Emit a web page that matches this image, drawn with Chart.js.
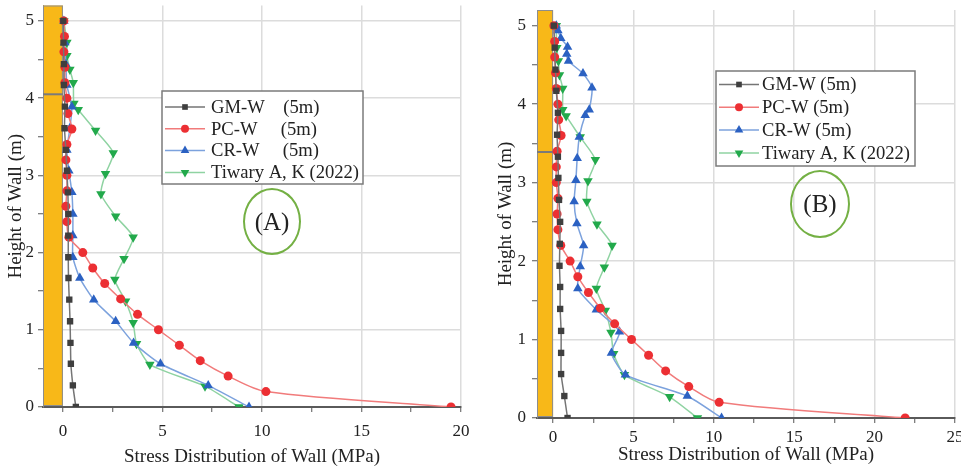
<!DOCTYPE html>
<html>
<head>
<meta charset="utf-8">
<script src="https://cdn.jsdelivr.net/npm/chart.js@4.4.1/dist/chart.umd.min.js"></script>
<style>
  body { margin: 0; background: #fff; }
  #wrap { position: relative; width: 961px; height: 470px; overflow: hidden; font-family: "Liberation Serif", "Times New Roman", serif; }
  canvas { position: absolute; top: 0; }
  #chartA { left: 0; }
  #chartB { left: 480px; }
  .tag { position: absolute; box-sizing: border-box; border: 2px solid #74b044; border-radius: 50%;
         display: flex; align-items: center; justify-content: center; font-size: 25px; color: #222; }
</style>
</head>
<body>
<div id="wrap">
  <canvas id="chartA" width="480" height="470"></canvas>
  <canvas id="chartB" width="481" height="470"></canvas>
  <div class="tag" style="left:243px;top:188px;width:58px;height:67px">(A)</div>
  <div class="tag" style="left:790px;top:170px;width:60px;height:68px">(B)</div>
</div>
<script>
// sampling heights along the wall (m)
const hCoarse = [0, 0.28, 0.56, 0.83, 1.11, 1.39, 1.67, 1.94, 2.22, 2.5, 2.78, 3.06, 3.33, 3.61, 3.89, 4.17, 4.44, 4.72, 5.0];
const hFine = [0, 0.2, 0.4, 0.6, 0.8, 1.0, 1.2, 1.4, 1.6, 1.8, 2.0, 2.2, 2.4, 2.6, 2.8, 3.0, 3.2, 3.4, 3.6, 3.8, 4.0, 4.2, 4.4, 4.6, 4.8, 5.0];
const hTiwary = [0, 0.27, 0.55, 0.82, 1.09, 1.37, 1.65, 1.92, 2.2, 2.47, 2.76, 3.02, 3.29, 3.58, 3.85, 3.93, 4.2, 4.37, 4.55, 4.72, 5.0];
const hCrB = [0, 0.28, 0.55, 0.83, 1.1, 1.38, 1.65, 1.93, 2.2, 2.48, 2.76, 3.03, 3.31, 3.58, 3.86, 3.93, 4.21, 4.39, 4.55, 4.64, 4.73, 4.84, 4.94, 5.0];

// stress (MPa) - panel A
const gmA = [0.65, 0.5, 0.4, 0.38, 0.36, 0.32, 0.28, 0.27, 0.27, 0.27, 0.25, 0.2, 0.15, 0.08, 0.1, 0.05, 0.05, 0.03, 0.02];
const pcA = [19.5, 10.2, 8.3, 6.9, 5.85, 4.8, 3.75, 2.9, 2.1, 1.5, 1.0, 0.3, 0.2, 0.15, 0.2, 0.2, 0.15, 0.2, 0.45, 0.25, 0.2, 0.1, 0.1, 0.05, 0.08, 0.05];
const crA = [9.35, 7.3, 4.9, 3.55, 2.65, 1.55, 0.85, 0.5, 0.5, 0.5, 0.45, 0.3, 0.2, 0.35, 0.45, 0.2, 0.15, 0.1, 0.05];
const tiwaryA = [8.85, 7.14, 4.37, 3.7, 3.53, 3.15, 2.61, 3.07, 3.53, 2.65, 1.91, 2.14, 2.53, 1.64, 0.77, 0.55, 0.52, 0.35, 0.2, 0.2, 0.05];

// stress (MPa) - panel B
const gmB = [0.9, 0.7, 0.5, 0.5, 0.5, 0.44, 0.44, 0.4, 0.42, 0.44, 0.37, 0.33, 0.3, 0.25, 0.3, 0.2, 0.15, 0.1, 0.05];
const pcB = [21.9, 10.33, 8.44, 7.0, 5.94, 4.88, 3.83, 2.94, 2.2, 1.54, 1.06, 0.48, 0.3, 0.25, 0.3, 0.2, 0.2, 0.25, 0.5, 0.35, 0.3, 0.2, 0.15, 0.1, 0.1, 0.05];
const crB = [10.48, 8.35, 4.5, 3.63, 4.13, 2.69, 1.54, 1.69, 1.9, 1.48, 1.31, 1.42, 1.5, 1.63, 2.0, 2.25, 2.42, 1.86, 0.96, 0.85, 0.9, 0.48, 0.3, 0.2];
const tiwaryB = [8.98, 7.25, 4.44, 3.77, 3.6, 3.25, 2.69, 3.19, 3.67, 2.73, 2.1, 2.17, 2.63, 1.69, 0.81, 0.6, 0.6, 0.4, 0.33, 0.23, 0.2];

const labelsA = ['GM-W    (5m)', 'PC-W     (5m)', 'CR-W     (5m)', 'Tiwary A, K (2022)'];
const labelsB = ['GM-W (5m)', 'PC-W (5m)', 'CR-W (5m)', 'Tiwary A, K (2022)'];

const xTicksA = [0, 2.5, 5, 7.5, 10, 12.5, 15, 17.5, 20];
const xTicksB = [0, 2.5, 5, 7.5, 10, 12.5, 15, 17.5, 20, 22.5, 25];
const yTicks = [0, 0.5, 1, 1.5, 2, 2.5, 3, 3.5, 4, 4.5, 5];

// wall strip drawn behind the curves
const wallSpan = [-1, 0];
const wallTop = 5.2;
const jointA = 4.05;
const jointB = 3.39;

const serif = '"Liberation Serif", "Times New Roman", serif';
const ink = '#222';

const pts = (hs, vs) => hs.map((h, i) => ({ x: vs[i], y: h }));

const wallPlugin = {
    id: 'wall',
    beforeDatasetsDraw(chart, args, opts) {
        const { ctx, scales: { x, y } } = chart;
        const l = x.getPixelForValue(wallSpan[0]);
        const r = x.getPixelForValue(wallSpan[1]);
        const t = y.getPixelForValue(wallTop);
        const b = y.getPixelForValue(0) - 1;
        ctx.save();
        ctx.fillStyle = '#f8b818';
        ctx.fillRect(l, t, r - l, b - t);
        ctx.strokeStyle = '#8d8d8d';
        ctx.lineWidth = 1;
        ctx.strokeRect(l + 0.5, t + 0.5, r - l - 1, b - t - 1);
        const j = y.getPixelForValue(opts.joint);
        ctx.strokeStyle = '#7a7a7a';
        ctx.lineWidth = 2;
        ctx.beginPath();
        ctx.moveTo(l, j);
        ctx.lineTo(r, j);
        ctx.stroke();
        ctx.restore();
    }
};

// framed legend placed over the plot
const boxLegend = {
    id: 'boxLegend',
    afterDatasetsDraw(chart, args, o) {
        const ctx = chart.ctx;
        ctx.save();
        ctx.fillStyle = '#fff';
        ctx.fillRect(o.left, o.top, o.width, o.height);
        ctx.strokeStyle = '#7b7b7b';
        ctx.lineWidth = 1.5;
        ctx.strokeRect(o.left, o.top, o.width, o.height);
        ctx.font = `${o.fontSize}px ${serif}`;
        ctx.textBaseline = 'middle';
        chart.data.datasets.forEach((ds, i) => {
            const yy = o.firstRow + i * o.rowGap;
            const x0 = o.left + 3;
            ctx.strokeStyle = ds.borderColor;
            ctx.lineWidth = 1.5;
            ctx.beginPath();
            ctx.moveTo(x0, yy);
            ctx.lineTo(x0 + o.lineLen, yy);
            ctx.stroke();
            ctx.fillStyle = ds.pointBackgroundColor;
            Chart.helpers.drawPoint(ctx, {
                pointStyle: ds.pointStyle,
                rotation: ds.pointRotation || 0,
                radius: ds.pointRadius - 0.5,
                borderWidth: 0
            }, x0 + o.lineLen / 2, yy);
            ctx.fillStyle = ink;
            ctx.fillText(ds.label, o.left + o.textX, yy + 1);
        });
        ctx.restore();
    }
};

function series(labels, gm, pc, cr, tw, hCr, hTw) {
    return [
        {
            label: labels[0], data: pts(hCoarse, gm),
            borderColor: '#757575', pointBackgroundColor: '#3f3f3f',
            pointStyle: 'rect', pointRadius: 4.5, tension: 0.2
        },
        {
            label: labels[1], data: pts(hFine, pc),
            borderColor: '#f17b7b', pointBackgroundColor: '#ec2f33',
            pointStyle: 'circle', pointRadius: 4.5, tension: 0.3
        },
        {
            label: labels[2], data: pts(hCr, cr),
            borderColor: '#7ca2dd', pointBackgroundColor: '#2b61c2',
            pointStyle: 'triangle', pointRadius: 5.5, tension: 0.2
        },
        {
            label: labels[3], data: pts(hTw, tw),
            borderColor: '#8fd3a2', pointBackgroundColor: '#22a94b',
            pointStyle: 'triangle', pointRotation: 180, pointRadius: 5.5, tension: 0.2
        }
    ].map(ds => Object.assign({
        showLine: true, borderWidth: 1.5, pointBorderWidth: 0, pointHoverRadius: 0
    }, ds));
}

function buildChart(id, datasets, cfg) {
    const ctx = document.getElementById(id).getContext('2d');
    return new Chart(ctx, {
        type: 'scatter',
        data: { datasets },
        plugins: [wallPlugin, boxLegend],
        options: {
            responsive: false,
            animation: false,
            events: [],
            layout: { padding: cfg.padding },
            scales: {
                x: {
                    type: 'linear', min: -1, max: cfg.xMax,
                    afterBuildTicks: (s) => { s.ticks = cfg.xTicks.map((v) => ({ value: v })); },
                    afterFit: (s) => { s.height = cfg.xHeight; s.paddingLeft = 0; s.paddingRight = 0; },
                    ticks: {
                        autoSkip: false, maxRotation: 0, color: ink, padding: cfg.xTickPad,
                        font: { family: serif, size: 17 },
                        callback: (v) => (v % 5 === 0 ? String(v) : '')
                    },
                    grid: {
                        color: (c) => (c.tick && c.tick.value % 5 === 0 && c.tick.value > 0 ? '#dcdcdc' : 'rgba(0,0,0,0)'),
                        lineWidth: 1.5, tickColor: '#555', tickLength: 5, tickWidth: 1
                    },
                    border: { color: '#5a5a5a', width: 2 },
                    title: {
                        display: true, text: 'Stress Distribution of Wall (MPa)', color: ink,
                        font: { family: serif, size: 19 }, padding: { top: 0, bottom: cfg.xTitlePad }
                    }
                },
                y: {
                    type: 'linear', min: 0, max: wallTop,
                    afterBuildTicks: (s) => { s.ticks = yTicks.map((v) => ({ value: v })); },
                    afterFit: (s) => { s.width = cfg.yWidth; s.paddingTop = 0; s.paddingBottom = 0; },
                    ticks: {
                        autoSkip: false, color: ink, padding: cfg.yTickPad,
                        font: { family: serif, size: 17 },
                        callback: (v) => (Number.isInteger(v) ? String(v) : '')
                    },
                    grid: {
                        color: (c) => (c.tick && Number.isInteger(c.tick.value) && c.tick.value > 0 ? '#dcdcdc' : 'rgba(0,0,0,0)'),
                        lineWidth: 1.5, tickColor: '#555', tickLength: 5, tickWidth: 1
                    },
                    border: { color: '#8a8a8a', width: 1 },
                    title: {
                        display: true, text: 'Height of Wall (m)', color: ink,
                        font: { family: serif, size: 19 }, padding: { top: cfg.yTitlePad, bottom: 0 }
                    }
                }
            },
            plugins: {
                legend: { display: false },
                tooltip: { enabled: false },
                wall: { joint: cfg.joint },
                boxLegend: cfg.legend
            }
        }
    });
}

buildChart('chartA', series(labelsA, gmA, pcA, crA, tiwaryA, hCoarse, hTiwary), {
    padding: { top: 0, right: 19, bottom: 0, left: 0 },
    xMax: 20, xTicks: xTicksA, xHeight: 63, xTickPad: 9, xTitlePad: 2,
    yWidth: 43, yTickPad: 4, yTitlePad: 5,
    joint: jointA,
    legend: { left: 162, top: 91, width: 201, height: 93, firstRow: 107, rowGap: 21.8, lineLen: 40, textX: 49, fontSize: 18.6 }
});

buildChart('chartB', series(labelsB, gmB, pcB, crB, tiwaryB, hCrB, hTiwary), {
    padding: { top: 10, right: 6, bottom: 0, left: 0 },
    xMax: 25, xTicks: xTicksB, xHeight: 52, xTickPad: 4, xTitlePad: 4,
    yWidth: 57, yTickPad: 6, yTitlePad: 15,
    joint: jointB,
    legend: { left: 236, top: 71, width: 199, height: 95, firstRow: 84.5, rowGap: 22.8, lineLen: 40, textX: 46, fontSize: 18.6 }
});
</script>
</body>
</html>
